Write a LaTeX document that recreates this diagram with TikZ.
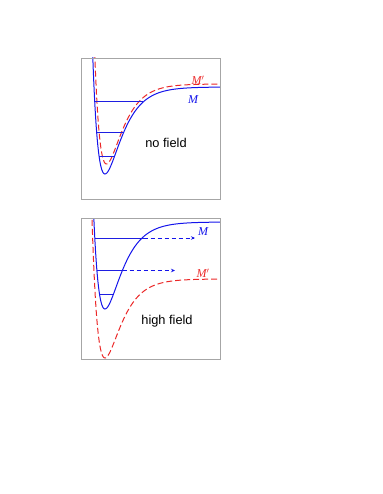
\documentclass[tikz,border=0pt]{standalone}
\usepackage{fontspec}
\setmainfont{Liberation Serif}
\newfontfamily\sansf{Liberation Sans}
\usetikzlibrary{arrows.meta}
\definecolor{mred}{RGB}{235,40,40}
\definecolor{mblue}{RGB}{20,20,235}
\definecolor{lvl}{RGB}{30,30,225}
\tikzset{
  frame/.style={draw=black!35, line width=0.8pt},
  curveM/.style={mblue, line width=1pt},
  curveMp/.style={mred, line width=1pt, dash pattern=on 6pt off 3pt},
  level/.style={lvl, line width=1pt},
  escape/.style={mblue, line width=0.9pt, dash pattern=on 4pt off 3pt, -{Stealth[length=4pt,width=3.5pt]}},
  lab/.style={font=\fontsize{12}{12}\selectfont\itshape, inner sep=0pt},
  fieldlab/.style={font=\sansf\fontsize{12.8}{13}\selectfont, inner sep=0pt}
}
\begin{document}
\begin{tikzpicture}[x=1pt,y=-1pt]
\useasboundingbox (0,0) rectangle (382,494);
% ---------- top panel: no field ----------
\begin{scope}
\clip (81,58) rectangle (220,199);
\draw[curveMp] plot[domain=93:220, samples=220] (\x, {164-80*(1-exp(-0.066*(\x-106.5)))^2});
\draw[curveM] plot[domain=92:220, samples=220] (\x, {174-87*(1-exp(-0.063*(\x-105)))^2});
\end{scope}
\draw[frame] (81,58) rectangle (220,199);
\coordinate (a1) at (94.7,102); \coordinate (b1) at (143.2,102);
\coordinate (a2) at (96.7,133); \coordinate (b2) at (123.4,133);
\coordinate (a3) at (99.2,157); \coordinate (b3) at (114.3,157);
\draw[level] (a1) -- (b1);
\draw[level] (a2) -- (b2);
\draw[level] (a3) -- (b3);
\node[lab, text=mred] (mp1) at (198,80) {M$'$};
\node[lab, text=mblue] (m1) at (193,100) {M};
\node[fieldlab] (nf) at (166,143) {no field};
% ---------- bottom panel: high field ----------
\begin{scope}
\clip (81,218) rectangle (220,359);
\draw[curveMp] plot[domain=91:220, samples=220] (\x, {358-79*(1-exp(-0.065*(\x-105)))^2});
\draw[curveM] plot[domain=92:220, samples=220] (\x, {309-87*(1-exp(-0.063*(\x-105)))^2});
\end{scope}
\draw[frame] (81,218) rectangle (220,359);
\coordinate (c1) at (94.7,238); \coordinate (d1) at (143.5,238); \coordinate (e1) at (195,238);
\coordinate (c2) at (96.7,270.5); \coordinate (d2) at (122.5,270.5); \coordinate (e2) at (175,270.5);
\coordinate (c3) at (99.5,294); \coordinate (d3) at (112.5,294);
\draw[level] (c1) -- (d1);
\draw[escape] (d1) -- (e1);
\draw[level] (c2) -- (d2);
\draw[escape] (d2) -- (e2);
\draw[level] (c3) -- (d3);
\node[lab, text=mblue] (m2) at (203,232) {M};
\node[lab, text=mred] (mp2) at (203,273) {M$'$};
\node[fieldlab] (hf) at (167,321) {high field};
\end{tikzpicture}
\end{document}
